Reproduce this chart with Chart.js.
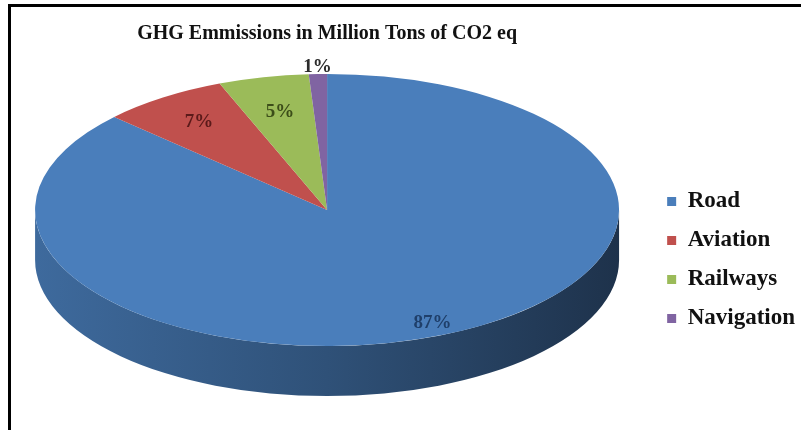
<!DOCTYPE html>
<html>
<head>
<meta charset="utf-8">
<script src="https://cdn.jsdelivr.net/npm/chart.js@4.4.1/dist/chart.umd.min.js"></script>
<style>
  html, body { margin: 0; padding: 0; background: #fff; }
  #wrap { position: relative; width: 801px; height: 430px; overflow: hidden; }
  #frame { position: absolute; left: 8px; top: 4px; right: -10px; bottom: -10px;
           border-top: 3px solid #000; border-left: 3px solid #000; pointer-events: none; }
</style>
</head>
<body>
<div id="wrap">
  <canvas id="myChart" width="801" height="430"></canvas>
  <div id="frame"></div>
</div>
<script>
// data (share of GHG emissions, %)
const categories = ["Road", "Aviation", "Railways", "Navigation"];
const emissions = [87, 7, 5, 1];

function shade(hex, k) {
  const n = parseInt(hex.slice(1), 16);
  const r = Math.round(((n >> 16) & 255) * k);
  const g = Math.round(((n >> 8) & 255) * k);
  const b = Math.round((n & 255) * k);
  return "rgb(" + r + "," + g + "," + b + ")";
}

// fake 3D: squash the pie into an ellipse and add a wall under the front half
const pie3d = {
  id: "pie3d",
  beforeDatasetsDraw(chart, args, o) {
    const ctx = chart.ctx;
    const arcs = chart.getDatasetMeta(0).data;
    const cx = arcs[0].x, cy = arcs[0].y, r = arcs[0].outerRadius;
    const rx = r * o.scaleX, ry = r * o.scaleY;
    arcs.forEach((arc, i) => {
      const col = arc.options.backgroundColor;
      const grad = ctx.createLinearGradient(cx - rx, 0, cx + rx, 0);
      grad.addColorStop(0, shade(col, 0.84));
      grad.addColorStop(0.5, shade(col, 0.64));
      grad.addColorStop(1, shade(col, 0.40));
      [-2 * Math.PI, 0, 2 * Math.PI].forEach(k => {
        const lo = Math.max(arc.startAngle, k), hi = Math.min(arc.endAngle, k + Math.PI);
        if (hi <= lo) return;
        ctx.beginPath();
        ctx.ellipse(cx, cy, rx, ry, 0, lo, hi);
        ctx.ellipse(cx, cy + o.depth, rx, ry, 0, hi, lo, true);
        ctx.closePath();
        ctx.fillStyle = grad;
        ctx.fill();
      });
    });
    ctx.save();
    ctx.translate(cx, cy);
    ctx.scale(o.scaleX, o.scaleY);
    ctx.translate(-cx, -cy);
  },
  afterDatasetsDraw(chart, args, o) {
    const ctx = chart.ctx;
    ctx.restore();
    const vals = chart.data.datasets[0].data;
    const total = vals.reduce((a, b) => a + b, 0);
    chart.getDatasetMeta(0).data.forEach((arc, i) => {
      const mid = (arc.startAngle + arc.endAngle) / 2;
      const f = o.labelRadius[i];
      const x = arc.x + Math.cos(mid) * arc.outerRadius * f * o.scaleX;
      const y = arc.y + Math.sin(mid) * arc.outerRadius * f * o.scaleY;
      ctx.save();
      ctx.font = "bold 19px 'Liberation Serif', serif";
      ctx.fillStyle = o.labelColors[i];
      ctx.textAlign = "center";
      ctx.textBaseline = "middle";
      ctx.fillText(Math.round(vals[i] / total * 100) + "%", x, y);
      ctx.restore();
    });
  }
};

new Chart(document.getElementById("myChart"), {
  type: "pie",
  data: {
    labels: categories,
    datasets: [{
      data: emissions,
      backgroundColor: ["#4a7ebb", "#c0504d", "#9bbb59", "#8064a2"],
      borderWidth: 0,
      clip: false
    }]
  },
  options: {
    responsive: false,
    devicePixelRatio: 1,
    animation: false,
    events: [],
    layout: { padding: { left: 3, right: -4, top: 0, bottom: 84 } },
    plugins: {
      title: {
        display: true,
        text: "GHG Emmissions in Million Tons of CO2 eq",
        fullSize: false,
        color: "#111",
        padding: { top: 22, bottom: 28 },
        font: { family: "'Liberation Serif', serif", size: 20, weight: "bold" }
      },
      legend: {
        position: "right",
        align: "end",
        maxWidth: 154,
        labels: {
          boxWidth: 9,
          boxHeight: 9,
          padding: 16,
          color: "#111",
          font: { family: "'Liberation Serif', serif", size: 23, weight: "bold" }
        }
      },
      tooltip: { enabled: false },
      pie3d: {
        scaleX: 2.147,
        scaleY: 1.0,
        depth: 50,
        labelRadius: [0.91, 0.78, 0.74, 1.05],
        labelColors: ["#1f3f6a", "#5b1a1a", "#3c4d19", "#2b2b2b"]
      }
    }
  },
  plugins: [pie3d]
});
</script>
</body>
</html>
